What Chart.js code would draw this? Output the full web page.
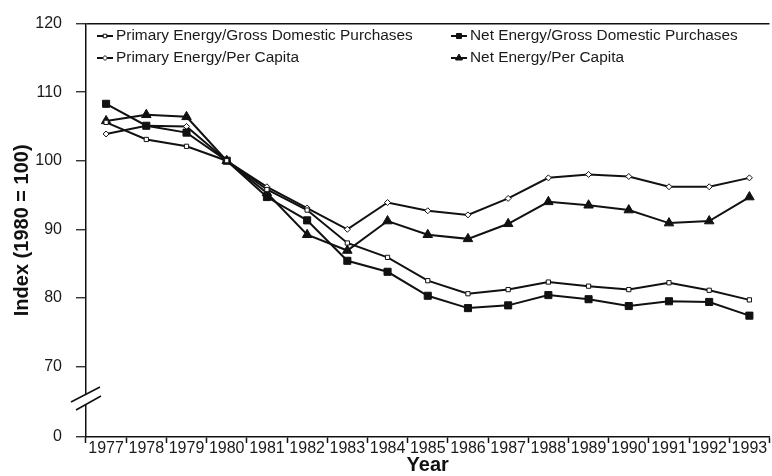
<!DOCTYPE html>
<html>
<head>
<meta charset="utf-8">
<script src="https://cdn.jsdelivr.net/npm/chart.js@4/dist/chart.umd.min.js"></script>
<style>
  html, body { margin: 0; padding: 0; background: #fff; overflow: hidden; }
  #wrap { width: 776px; height: 476px; }
</style>
</head>
<body>
<div id="wrap"><canvas id="chart" width="776" height="476"></canvas></div>
<script>
// Energy intensity indexes, 1980 = 100
const years = ['1977', '1978', '1979', '1980', '1981', '1982', '1983', '1984', '1985',
               '1986', '1987', '1988', '1989', '1990', '1991', '1992', '1993'];

const primaryGdp = [105.6, 103.1, 102.1, 100, 95.8, 92.8, 88.0, 85.9, 82.5,
                    80.6, 81.2, 82.3, 81.7, 81.2, 82.2, 81.1, 79.7];
const primaryPerCapita = [103.9, 105.1, 105.0, 100, 96.2, 93.1, 90.0, 93.9, 92.7,
                          92.1, 94.5, 97.5, 98.0, 97.7, 96.2, 96.2, 97.5];
const netGdp = [108.3, 105.1, 104.1, 100, 94.7, 91.3, 85.4, 83.8, 80.3,
                78.5, 78.9, 80.4, 79.8, 78.8, 79.5, 79.4, 77.4];
const netPerCapita = [105.8, 106.7, 106.4, 100, 95.3, 89.2, 86.9, 91.2, 89.2,
                      88.6, 90.8, 94.0, 93.5, 92.8, 90.9, 91.2, 94.7];

// bottom of the broken axis is labelled 0
const yTicks = [59.7, 70, 80, 90, 100, 110, 120];

const INK = '#111';
const FONT = '"Liberation Sans", Arial, Helvetica, sans-serif';

function series(label, data, style, radius, filled) {
    return {
        label: label,
        data: data,
        borderColor: INK,
        borderWidth: 2,
        backgroundColor: filled ? INK : '#fff',
        pointStyle: style,
        pointRadius: radius,
        pointBorderWidth: 1,
        pointBorderColor: INK,
        pointBackgroundColor: filled ? INK : '#fff',
        tension: 0,
        fill: false
    };
}

// 2 x 2 legend at the top of the plot, filled row by row
const legendGrid = {
    id: 'legendGrid',
    afterDraw(chart) {
        const ctx = chart.ctx;
        const cols = [97, 451];
        const rows = [36, 58];
        ctx.save();
        ctx.font = '15.4px ' + FONT;
        ctx.textBaseline = 'middle';
        chart.data.datasets.forEach((ds, i) => {
            const x = cols[i % 2];
            const y = rows[Math.floor(i / 2)];
            ctx.strokeStyle = INK;
            ctx.lineWidth = 2;
            ctx.beginPath();
            ctx.moveTo(x, y);
            ctx.lineTo(x + 16, y);
            ctx.stroke();
            ctx.fillStyle = ds.pointBackgroundColor;
            ctx.lineWidth = 1;
            Chart.helpers.drawPoint(ctx, {
                pointStyle: ds.pointStyle,
                radius: Math.max(ds.pointRadius - 1.5, 2.5),
                borderWidth: 1,
                rotation: 0
            }, x + 8, y);
            ctx.fillStyle = '#1a1a1a';
            ctx.fillText(ds.label, x + 19, y);
        });
        ctx.restore();
    }
};

// break marks on the value axis between 0 and 70
const axisBreak = {
    id: 'axisBreak',
    afterDraw(chart) {
        const ctx = chart.ctx;
        const x = chart.chartArea.left;
        ctx.save();
        ctx.fillStyle = '#fff';
        ctx.fillRect(x - 3, 395, 6, 9);
        ctx.strokeStyle = INK;
        ctx.lineWidth = 1.6;
        ctx.beginPath();
        ctx.moveTo(71, 402);
        ctx.lineTo(100, 387);
        ctx.moveTo(76, 410);
        ctx.lineTo(101, 396);
        ctx.stroke();
        ctx.restore();
    }
};

new Chart(document.getElementById('chart').getContext('2d'), {
    type: 'line',
    data: {
        labels: years,
        datasets: [
            series('Primary Energy/Gross Domestic Purchases', primaryGdp, 'rect', 3, false),
            series('Net Energy/Gross Domestic Purchases', netGdp, 'rect', 5, true),
            series('Primary Energy/Per Capita', primaryPerCapita, 'rectRot', 3, false),
            series('Net Energy/Per Capita', netPerCapita, 'triangle', 5.5, true)
        ]
    },
    options: {
        responsive: false,
        animation: false,
        layout: { padding: { top: 16, left: 0, right: 0, bottom: 0 } },
        plugins: {
            legend: { display: false },
            tooltip: { enabled: false }
        },
        scales: {
            x: {
                type: 'category',
                offset: true,
                afterFit: s => { s.height = 39; },
                border: { color: INK, width: 1.5 },
                grid: {
                    offset: true,
                    drawOnChartArea: false,
                    drawTicks: true,
                    tickLength: 6,
                    tickColor: INK,
                    tickWidth: 1.5
                },
                ticks: {
                    autoSkip: false,
                    maxRotation: 0,
                    padding: -4,
                    color: '#1a1a1a',
                    font: { family: FONT, size: 16 }
                },
                title: {
                    display: true,
                    text: 'Year',
                    color: INK,
                    padding: 0,
                    font: { family: FONT, size: 20, weight: 'bold', lineHeight: 1.1 }
                }
            },
            y: {
                type: 'linear',
                min: 59.7,
                max: 120,
                afterFit: s => { s.width = 86; },
                afterBuildTicks: s => { s.ticks = yTicks.map(v => ({ value: v })); },
                border: { color: INK, width: 1.5 },
                grid: {
                    color: c => (c.tick && c.tick.value === 120 ? INK : 'rgba(0,0,0,0)'),
                    lineWidth: 1.5,
                    drawTicks: true,
                    tickLength: 10,
                    tickColor: INK,
                    tickWidth: 1.2
                },
                ticks: {
                    padding: 14,
                    color: '#1a1a1a',
                    font: { family: FONT, size: 16 },
                    callback: v => (v < 65 ? '0' : String(v))
                },
                title: {
                    display: true,
                    text: 'Index (1980 = 100)',
                    color: INK,
                    padding: { top: 10, bottom: 0 },
                    font: { family: FONT, size: 20, weight: 'bold' }
                }
            }
        }
    },
    plugins: [legendGrid, axisBreak]
});
</script>
</body>
</html>
